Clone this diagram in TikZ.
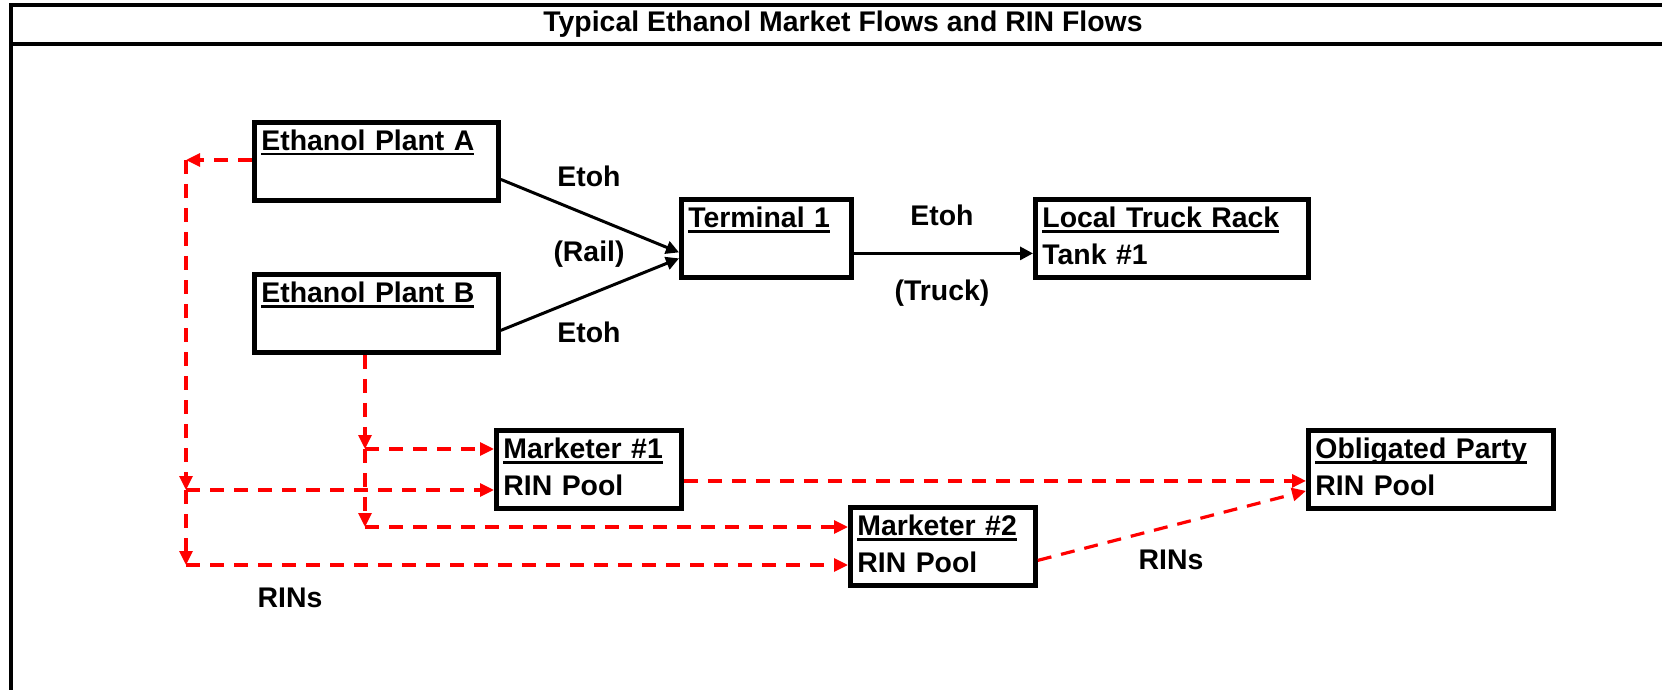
\documentclass[tikz,border=0pt]{standalone}
\usepackage{fontspec}
\setmainfont{Liberation Sans}
\usetikzlibrary{arrows.meta}

% underlined first line of a box
\newsavebox\ulbox
\newcommand\titleul[1]{\sbox\ulbox{#1}\rlap{\rule[-2.6pt]{\wd\ulbox}{1.3pt}}\usebox\ulbox}

\tikzset{
  frame/.style={line width=2.4pt},
  unit/.style={draw, line width=2.4pt, anchor=north west, align=left,
    inner xsep=3.5pt, inner ysep=0pt, minimum height=39pt},
  etoh/.style={line width=1.5pt, -{Triangle[length=6.5pt,width=6.5pt]}},
  rin/.style={red, line width=1.6pt, dash pattern=on 7pt off 5pt,
    -{Triangle[length=7pt,width=6.5pt]}}
}

\begin{document}
\begin{tikzpicture}[x=0.5pt, y=-0.5pt, font=\fontsize{14.2}{18.5}\selectfont\bfseries]
        \useasboundingbox (0,0) rectangle (1662,690);

        % Draw the frame and the title
        \draw[frame] (11,690) -- (11,5) -- (1662,5);
        \draw[frame] (11,44) -- (1662,44);
        \node (title) at (843,24) {Typical Ethanol Market Flows and RIN Flows};

        % Draw the boxes
        \node[unit, text width=115pt] (pa) at (252,120) {\strut\titleul{Ethanol Plant A}\\\strut};
        \node[unit, text width=115pt] (pb) at (252,272) {\strut\titleul{Ethanol Plant B}\\\strut};
        \node[unit, text width=78pt] (term) at (679,197) {\strut\titleul{Terminal 1}\\\strut};
        \node[unit, text width=129.5pt] (rack) at (1033,197) {\strut\titleul{Local Truck Rack}\\\strut Tank \#1};
        \node[unit, text width=85.5pt] (m1) at (494,428) {\strut\titleul{Marketer \#1}\\\strut RIN Pool};
        \node[unit, text width=85.5pt] (m2) at (848,505) {\strut\titleul{Marketer \#2}\\\strut RIN Pool};
        \node[unit, text width=115.5pt] (op) at (1306,428) {\strut\titleul{Obligated Party}\\\strut RIN Pool};

        % Draw the ethanol flows
        \draw[etoh] ([yshift=-9pt]pa.east) -- ([yshift=-7pt]term.west);
        \draw[etoh] ([yshift=-8.5pt]pb.east) -- ([yshift=-10pt]term.west);
        \draw[etoh] ([yshift=-7.5pt]term.east) -- ([yshift=-7.5pt]rack.west);
        \node (et1) at (589,176) {Etoh};
        \node (rail) at (589,254) {(Rail)};
        \node (et2) at (589,332) {Etoh};
        \node (et3) at (942,215) {Etoh};
        \node (truck) at (942,293) {(Truck)};

        % Draw the RIN flows
        \coordinate (ja) at (186,160);
        \coordinate (j1) at (186,490);
        \coordinate (j2) at (186,565);
        \coordinate (kb1) at (365,449);
        \coordinate (kb2) at (365,527);
        \draw[rin] (pa.west |- ja) -- (ja);
        \draw[rin] (ja) -- (j1);
        \draw[rin] (j1) -- (j2);
        \draw[rin] (j1) -- (m1.west |- j1);
        \draw[rin] (j2) -- (m2.west |- j2);
        \draw[rin] (pb.south -| kb1) -- (kb1);
        \draw[rin] (kb1) -- (kb2);
        \draw[rin] (kb1) -- (m1.west |- kb1);
        \draw[rin] (kb2) -- (m2.west |- kb2);
        \draw[rin] ([yshift=-5.75pt]m1.east) -- ([yshift=-5.75pt]op.west);
        \draw[rin] ([yshift=-7pt]m2.east) -- ([yshift=-10.75pt]op.west);
        \node (rins1) at (290,598) {RINs};
        \node (rins2) at (1171,560) {RINs};

    \end{tikzpicture}
\end{document}
